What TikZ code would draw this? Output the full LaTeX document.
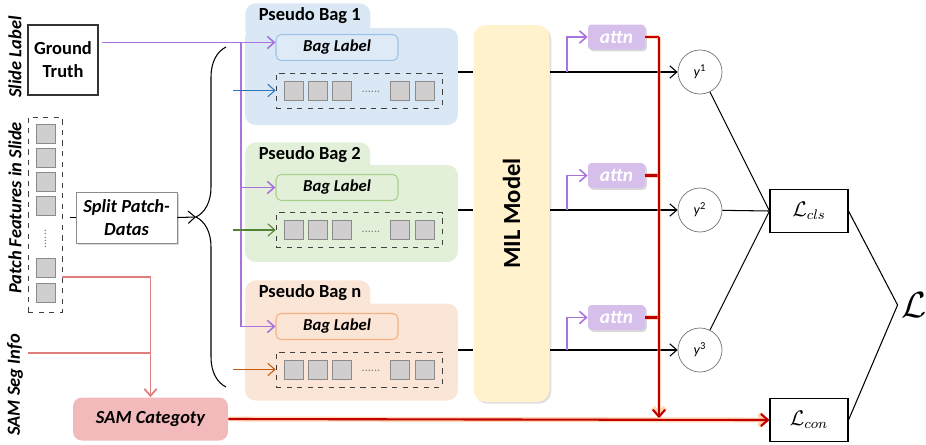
\documentclass[tikz,border=0pt]{standalone}
\usepackage{amsmath,amssymb}
\usepackage{fontspec}
\setmainfont{Carlito}
\usepackage{xcolor}
\usepackage{tikz}
\usetikzlibrary{arrows.meta, positioning, shadows, decorations.pathreplacing}

\definecolor{bagblue}{HTML}{DAE8F5}
\definecolor{bluebd}{HTML}{9DC3E6}
\definecolor{bluelab}{HTML}{DEEBF7}
\definecolor{baggreen}{HTML}{E2F0D9}
\definecolor{greenbd}{HTML}{A9D18E}
\definecolor{greenlab}{HTML}{E2F0D9}
\definecolor{bagorange}{HTML}{FBE5D6}
\definecolor{orangebd}{HTML}{F4B183}
\definecolor{orangelab}{HTML}{FBE5D6}
\definecolor{arrblue}{HTML}{2E75B6}
\definecolor{arrgreen}{HTML}{548235}
\definecolor{arrorange}{HTML}{C55A11}
\definecolor{purp}{HTML}{A873DC}
\definecolor{attnfill}{HTML}{D6BFEA}
\definecolor{milfill}{HTML}{FFF2CC}
\definecolor{patchgray}{HTML}{D0CECE}
\definecolor{samfill}{HTML}{F2BABA}
\definecolor{samline}{HTML}{E07E7E}
\definecolor{redline}{HTML}{C00000}

\begin{document}
\begin{tikzpicture}[
    x=0.02cm, y=-0.02cm,
    font=\fontsize{10}{12}\selectfont,
    >={Straight Barb[length=4pt,width=7pt]},
    base/.style={align=center, inner sep=2pt},
    sidelbl/.style={base, rotate=90, font=\fontsize{10.5}{12}\selectfont\bfseries\itshape},
    sq/.style={draw=black!45, fill=patchgray, minimum size=0.38cm, inner sep=0pt},
    dotsn/.style={base, text=black!50, font=\fontsize{7}{8}\selectfont},
    dbox/.style={draw=black!75, dashed, inner sep=0pt},
    bagbody/.style={rectangle, rounded corners=6pt, minimum width=4.26cm, minimum height=1.94cm, inner sep=0pt},
    bagtab/.style={rectangle, rounded corners=6pt, minimum width=2.5cm, minimum height=0.74cm, inner sep=0pt, anchor=north west},
    bagtitle/.style={base, anchor=west, font=\fontsize{10.5}{12}\selectfont\bfseries},
    baglbl/.style={base, semithick, rounded corners=3pt, minimum width=2.44cm, minimum height=0.52cm, font=\fontsize{9.5}{11}\selectfont\bfseries\itshape},
    attnbox/.style={base, fill=attnfill, rounded corners=2pt, minimum width=1.14cm, minimum height=0.5cm, text=white, drop shadow={opacity=0.3, shadow xshift=1pt, shadow yshift=-1pt}, font=\fontsize{11}{12}\selectfont\bfseries\itshape},
    ycirc/.style={circle, draw=black!55, minimum size=0.88cm, inner sep=0pt, font=\fontsize{8}{9}\selectfont},
    lossbox/.style={draw=black, semithick, minimum width=1.56cm, minimum height=0.86cm, font=\large},
    ln/.style={draw=black, semithick},
    purpln/.style={draw=purp, line width=0.9pt},
    redln/.style={draw=redline, line width=1.2pt, preaction={draw=orange!60, line width=2.8pt, opacity=0.5}},
    pinkln/.style={draw=samline, line width=1pt}
]
\useasboundingbox (0,0) rectangle (926,444);

% 1. Inputs on the left
\node[sidelbl] (slidelbl) at (15,57) {Slide Label};
\node[sidelbl] (patchlbl) at (15,208) {Patch Features in Slide};
\node[sidelbl] (seglbl) at (15,385) {SAM Seg Info};

\node[base, draw=black!80, semithick, minimum width=1.4cm, minimum height=1.4cm, font=\fontsize{10.5}{13}\selectfont\bfseries] (gt) at (63,60) {Ground\\Truth};

\node[dbox, minimum width=0.68cm, minimum height=3.9cm] (col) at (45,214.5) {};
\foreach \sy [count=\k] in {134,158,182,206,268,293}
    \node[sq] (c\k) at (45.5,\sy) {};
\node[dotsn, rotate=90] (cdots) at (45.5,239) {......};

\node[base, draw=black!45, fill=white, drop shadow={opacity=0.3, shadow xshift=1pt, shadow yshift=-1pt}, minimum width=2.02cm, minimum height=1.02cm, font=\fontsize{10.5}{13}\selectfont\bfseries\itshape] (split) at (126.5,217.5) {Split Patch-\\Datas};

\node[base, rounded corners=5pt, fill=samfill, minimum width=3.1cm, minimum height=0.86cm, font=\fontsize{10.5}{12}\selectfont\bfseries\itshape] (samcat) at (150.5,419) {SAM Categoty};

% brace
\draw[ln, decorate, decoration={brace, amplitude=0.6cm}] (226,387) -- (226,47);
\coordinate (btip) at (196,217);

% 2. Pseudo bags
\node[bagtab, fill=bagblue] (tab1) at (245,3) {};
\node[bagbody, fill=bagblue] (bag1) at (351.5,76.5) {};
\node[bagtitle] (title1) at (255,16) {Pseudo Bag 1};
\node[baglbl, draw=bluebd, fill=bluelab] (bl1) at (337,47.5) {Bag Label};
\node[dbox, minimum width=3.32cm, minimum height=0.7cm] (pb1) at (359,90.5) {};
\foreach \sx [count=\k] in {293.5,317.5,341.5,399.5,424.5}
    \node[sq] (p1s\k) at (\sx,90.5) {};
\node[dotsn] (p1dots) at (371,92) {......};

\node[bagtab, fill=baggreen] (tab2) at (245,142) {};
\node[bagbody, fill=baggreen] (bag2) at (351.5,213.5) {};
\node[bagtitle] (title2) at (255,155) {Pseudo Bag 2};
\node[baglbl, draw=greenbd, fill=greenlab] (bl2) at (337,187.5) {Bag Label};
\node[dbox, minimum width=3.32cm, minimum height=0.7cm] (pb2) at (359,230) {};
\foreach \sx [count=\k] in {293.5,317.5,341.5,399.5,424.5}
    \node[sq] (p2s\k) at (\sx,230) {};
\node[dotsn] (p2dots) at (371,231.5) {......};

\node[bagtab, fill=bagorange] (tabn) at (245,280) {};
\node[bagbody, fill=bagorange] (bagn) at (351.5,352) {};
\node[bagtitle] (titlen) at (255,293) {Pseudo Bag n};
\node[baglbl, draw=orangebd, fill=orangelab] (bln) at (337,326.5) {Bag Label};
\node[dbox, minimum width=3.32cm, minimum height=0.7cm] (pbn) at (359,369.5) {};
\foreach \sx [count=\k] in {293.5,317.5,341.5,399.5,424.5}
    \node[sq] (pns\k) at (\sx,369.5) {};
\node[dotsn] (pndots) at (371,371) {......};

% 3. MIL model, attention and outputs
\node[rounded corners=7pt, fill=milfill, drop shadow={opacity=0.25, shadow xshift=1pt, shadow yshift=-1pt}, minimum width=1.52cm, minimum height=7.54cm, inner sep=0pt] (mil) at (511.5,213.5) {};
\node[base, rotate=90, font=\fontsize{14}{16}\selectfont\bfseries] (miltext) at (mil.center) {MIL Model};

\node[attnbox] (attn1) at (616.5,37) {attn};
\node[attnbox] (attn2) at (616.5,175.5) {attn};
\node[attnbox] (attn3) at (616.5,317.5) {attn};

\node[ycirc] (y1) at (700,72) {\textit{y}\textsuperscript{1}};
\node[ycirc] (y2) at (700,210) {\textit{y}\textsuperscript{2}};
\node[ycirc] (y3) at (700,350) {\textit{y}\textsuperscript{3}};

% 4. Losses
\node[lossbox] (lcls) at (809,211) {$\mathcal{L}_{cls}$};
\node[lossbox] (lcon) at (809,420) {$\mathcal{L}_{con}$};
\node[base, font=\huge] (lall) at (914,305) {$\mathcal{L}$};

% Connections
\coordinate (sl) at ([yshift=0.1cm]bl1.west);
\draw[purpln, ->] ([xshift=2pt]gt.east |- sl) -- (sl);
\coordinate (pv) at (241,0);
\draw[purpln, ->] (pv |- sl) |- (bln.west);
\draw[purpln, ->] (pv |- bl2.west) -- (bl2.west);

\coordinate (fx) at (233,0);
\draw[->, draw=arrblue, semithick] (fx |- pb1.west) -- (pb1.west);
\draw[->, draw=arrgreen, semithick] (fx |- pb2.west) -- (pb2.west);
\draw[->, draw=arrorange, semithick] (fx |- pbn.west) -- (pbn.west);

\draw[ln] ([xshift=0.16cm]col.east |- split.west) -- (split.west);
\draw[ln, ->] (split.east) -- (btip);

\coordinate (pf) at ([yshift=0.7cm]col.south east);
\draw[pinkln, ->] (pf) -| (samcat.north);
\coordinate (seg) at (28,353);
\draw[pinkln] (seg) -- (seg -| samcat.north);

\draw[ln] (bag1.east |- y1) -- (mil.west |- y1);
\draw[ln] (bag2.east |- y2) -- (mil.west |- y2);
\draw[ln] (bagn.east |- y3) -- (mil.west |- y3);
\draw[ln, ->] (mil.east |- y1) -- (y1);
\draw[ln, ->] (mil.east |- y2) -- (y2);
\draw[ln, ->] (mil.east |- y3) -- (y3);

\draw[purpln, ->] ([xshift=0.34cm]mil.east |- y1) |- (attn1.west);
\draw[purpln, ->] ([xshift=0.34cm]mil.east |- y2) |- (attn2.west);
\draw[purpln, ->] ([xshift=0.34cm]mil.east |- y3) |- (attn3.west);

\coordinate (redx) at (659,0);
\draw[redln] (attn1.east) -- (attn1.east -| redx);
\draw[redln] (attn2.east) -- (attn2.east -| redx);
\draw[redln] (attn3.east) -- (attn3.east -| redx);
\draw[redln, ->] (attn1.east -| redx) -- ([yshift=1pt]redx |- lcon.west);
\draw[redln, ->] (samcat.east) -- (lcon.west);

\draw[ln] (y1) -- (lcls.west);
\draw[ln] (y2) -- (lcls.west);
\draw[ln] (y3) -- (lcls.west);
\draw[ln] (lcls.east) -- (lall.west);
\draw[ln] (lcon.east) -- (lall.west);

\end{tikzpicture}
\end{document}
